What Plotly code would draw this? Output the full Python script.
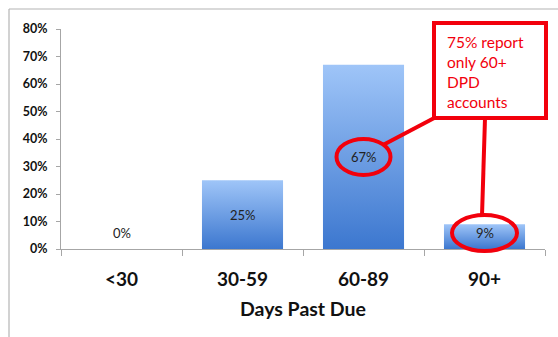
import plotly.graph_objects as go

categories = ["<30", "30-59", "60-89", "90+"]
shares = [0.0, 0.25, 0.67, 0.09]
label_texts = ["0%", "25%", "67%", "9%"]
y_ticks = [0, 0.1, 0.2, 0.3, 0.4, 0.5, 0.6, 0.7, 0.8]
x_title = "Days Past Due"
callout_lines = ["75% report", "only 60+", "DPD", "accounts"]
highlighted = [2, 3]

W, H = 558, 337
ML, MR, MT, MB = 61, 13, 29, 88
PW, PH = W - ML - MR, H - MT - MB
FONT = "Lato, 'Open Sans', sans-serif"
RED = "#f2000c"
BAR_W = 0.67


def px(x):
    return (x - ML) / PW


def py(y):
    return (H - MB - y) / PH


fig = go.Figure()

for i, v in enumerate(shares):
    if v <= 0:
        continue
    x0, x1 = i - BAR_W / 2, i + BAR_W / 2
    fig.add_trace(go.Scatter(
        x=[x0, x1, x1, x0, x0], y=[0, 0, v, v, 0],
        mode="lines", line=dict(width=0), fill="toself",
        fillgradient=dict(type="vertical", colorscale=[[0, "#3c77cf"], [1, "#9fc5f8"]]),
        hoverinfo="skip", showlegend=False,
    ))

for i, (v, t) in enumerate(zip(shares, label_texts)):
    fig.add_annotation(x=i, y=max(v / 2, 0.058), text=t, showarrow=False,
                       font=dict(family=FONT, size=13, color="#222222"),
                       xref="x", yref="y")

shapes = []
# outer frame (top and left)
shapes.append(dict(type="line", xref="paper", yref="paper", x0=px(9), x1=px(W + 2), y0=py(9), y1=py(9),
                   line=dict(color="#b4b4b4", width=1.2)))
shapes.append(dict(type="line", xref="paper", yref="paper", x0=px(9), x1=px(9), y0=py(9), y1=py(H + 2),
                   line=dict(color="#b4b4b4", width=1.2)))

# ellipses around highlighted labels
ell_size = {2: (54, 36), 3: (65, 36)}
for i in highlighted:
    cx = (i + 0.5) / len(categories)
    cy = max(shares[i] / 2, 0.058) / 0.8
    w, h = ell_size[i]
    shapes.append(dict(type="circle", xref="paper", yref="paper",
                       x0=cx - w / 2 / PW, x1=cx + w / 2 / PW,
                       y0=cy - h / 2 / PH, y1=cy + h / 2 / PH,
                       line=dict(color=RED, width=4)))

# connector lines
shapes.append(dict(type="line", xref="paper", yref="paper", x0=px(438), y0=py(116), x1=px(383), y1=py(145),
                   line=dict(color=RED, width=4)))
shapes.append(dict(type="line", xref="paper", yref="paper", x0=px(485), y0=py(118), x1=px(482), y1=py(216),
                   line=dict(color=RED, width=4)))

# callout box
shapes.append(dict(type="rect", xref="paper", yref="paper", x0=px(434), x1=px(546), y0=py(118), y1=py(23),
                   line=dict(color=RED, width=4), fillcolor="white"))

fig.add_annotation(xref="paper", yref="paper", x=px(445), y=py(31), xanchor="left", yanchor="top",
                   text="<br>".join(callout_lines), showarrow=False, align="left",
                   font=dict(family=FONT, size=15.5, color=RED))

fig.update_layout(
    width=W, height=H,
    margin=dict(l=ML, r=MR, t=MT, b=MB),
    paper_bgcolor="white", plot_bgcolor="white",
    shapes=shapes,
    showlegend=False,
    xaxis=dict(
        range=[-0.5, 3.5], tickvals=list(range(len(categories))), ticktext=categories,
        ticks="", showgrid=False, zeroline=False,
        showline=True, linecolor="#a6a6a6", linewidth=1,
        tickfont=dict(family=FONT, size=19, color="#111111", weight="bold"),
        ticklabelstandoff=13,
        minor=dict(tick0=-0.5, dtick=1, ticks="outside", ticklen=6, tickcolor="#a6a6a6", showgrid=False),
        title=dict(text=x_title, font=dict(family=FONT, size=19.5, color="#111111", weight="bold"), standoff=13),
        fixedrange=True,
    ),
    yaxis=dict(
        range=[0, 0.8], tickvals=y_ticks, tickformat=".0%",
        ticks="outside", ticklen=4, tickcolor="#a6a6a6",
        showgrid=False, zeroline=False,
        showline=True, linecolor="#a6a6a6", linewidth=1,
        tickfont=dict(family=FONT, size=12.5, color="#111111", weight="bold"),
        ticklabelstandoff=6,
        fixedrange=True,
    ),
)

fig.write_html("out.html")
